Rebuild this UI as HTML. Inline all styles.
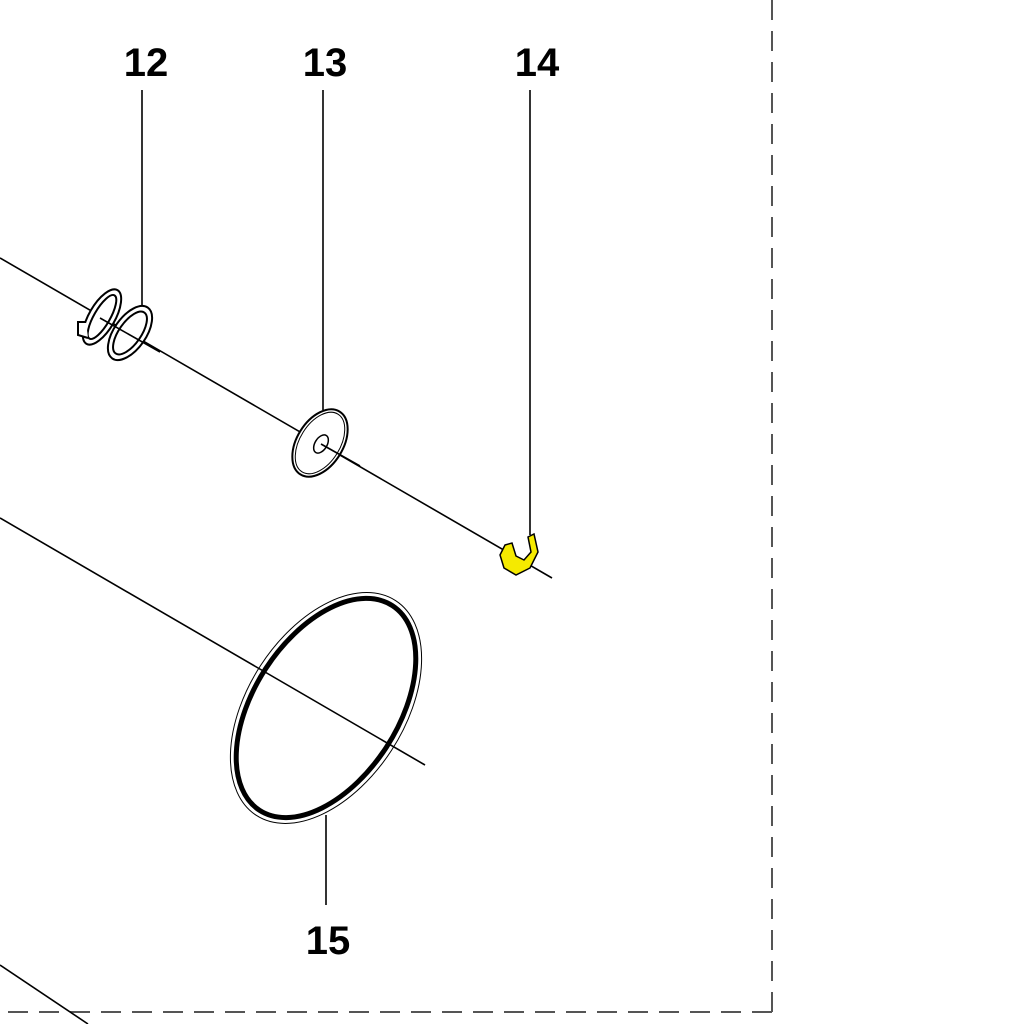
<!DOCTYPE html>
<html><head><style>
html,body{margin:0;padding:0;background:#fff;}
svg{display:block}
text{font-family:"Liberation Sans",Arial,sans-serif;font-weight:bold;font-size:40px;fill:#000}
</style></head><body>
<svg width="1024" height="1024" viewBox="0 0 1024 1024" xmlns="http://www.w3.org/2000/svg">
<g stroke="#555" stroke-width="2" fill="none" stroke-dasharray="20,11">
<line x1="772" y1="0" x2="772" y2="1012"/>
<line x1="772" y1="1012" x2="0" y2="1012"/>
</g>
<g stroke="#000" stroke-width="1.6" fill="none">
<line x1="0" y1="258" x2="552" y2="578"/>
<line x1="0" y1="518" x2="425" y2="765"/>
<line x1="0" y1="965" x2="88" y2="1024"/>
<line x1="142" y1="90" x2="142" y2="308"/>
<line x1="323" y1="90" x2="323" y2="410"/>
<line x1="530" y1="90" x2="530" y2="535"/>
<line x1="326" y1="815" x2="326" y2="905"/>
</g>
<!-- spring 12 -->
<g fill="#fff" stroke="#000" stroke-width="2">
<ellipse cx="102" cy="317" rx="13" ry="31" transform="rotate(30 102 317)"/>
<ellipse cx="102" cy="317" rx="8" ry="25" transform="rotate(30 102 317)"/>
<path d="M86 322 L78 322 L78 335 L88 338"/>
<ellipse cx="130" cy="333" rx="16" ry="31" transform="rotate(35 130 333)"/>
<ellipse cx="130" cy="333" rx="11" ry="25" transform="rotate(35 130 333)"/>
</g>
<line x1="100" y1="318" x2="160" y2="352" stroke="#000" stroke-width="1.6"/>
<!-- washer 13 -->
<ellipse cx="320" cy="443" rx="23" ry="37" transform="rotate(32 320 443)" fill="#fff" stroke="#000" stroke-width="2"/>
<ellipse cx="320" cy="443" rx="20" ry="34" transform="rotate(32 320 443)" fill="none" stroke="#000" stroke-width="1"/>
<ellipse cx="321" cy="444" rx="6" ry="10" transform="rotate(32 321 444)" fill="#fff" stroke="#000" stroke-width="1.5"/>
<line x1="321" y1="444" x2="360" y2="466" stroke="#000" stroke-width="1.6"/>
<!-- clip 14 -->
<path d="M505 545 L512 543 L516 556 L524 560 L531 552 L528 537 L534 534 L538 552 L530 568 L516 575 L504 568 L500 555 Z" fill="#f5ea00" stroke="#000" stroke-width="1.5"/>
<!-- O ring 15 -->
<ellipse cx="326" cy="708" rx="72" ry="122" transform="rotate(33 326 708)" fill="none" stroke="#000" stroke-width="5"/>
<ellipse cx="326" cy="708" rx="78" ry="128" transform="rotate(33 326 708)" fill="none" stroke="#000" stroke-width="1"/>
<text x="146" y="76" text-anchor="middle">12</text>
<text x="325" y="76" text-anchor="middle">13</text>
<text x="537" y="76" text-anchor="middle">14</text>
<text x="328" y="954" text-anchor="middle">15</text>
</svg>
</body></html>
